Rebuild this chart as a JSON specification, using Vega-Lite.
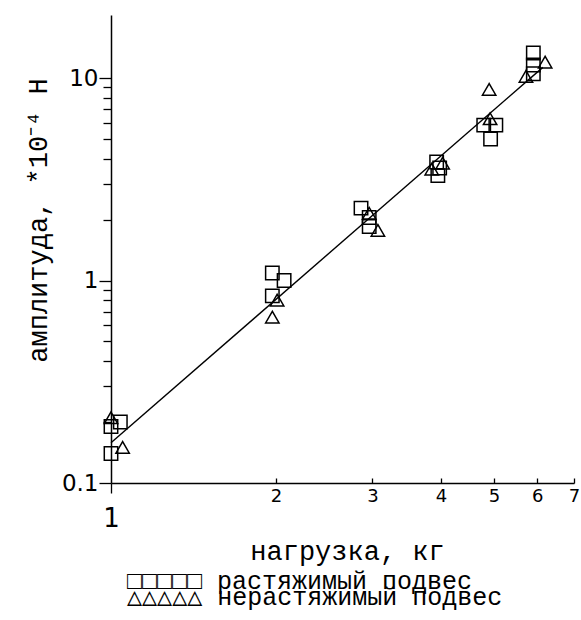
{
  "$schema": "https://vega.github.io/schema/vega-lite/v6.json",
  "width": 463,
  "height": 468,
  "autosize": "none",
  "padding": {"left": 111, "top": 15, "right": 7, "bottom": 137},
  "background": "white",
  "config": {
    "view": {"stroke": null},
    "axis": {"grid": false, "domainColor": "black", "tickColor": "black", "labelColor": "black", "titleColor": "black", "domainWidth": 1.5, "tickWidth": 1.3}
  },
  "datasets": {
    "pts": [
      {"x": 1.0, "y": 0.19, "s": "растяжимый подвес"},
      {"x": 1.04, "y": 0.2, "s": "растяжимый подвес"},
      {"x": 1.0, "y": 0.14, "s": "растяжимый подвес"},
      {"x": 1.97, "y": 1.09, "s": "растяжимый подвес"},
      {"x": 2.07, "y": 1.0, "s": "растяжимый подвес"},
      {"x": 1.97, "y": 0.84, "s": "растяжимый подвес"},
      {"x": 2.86, "y": 2.28, "s": "растяжимый подвес"},
      {"x": 2.96, "y": 2.05, "s": "растяжимый подвес"},
      {"x": 2.96, "y": 1.85, "s": "растяжимый подвес"},
      {"x": 3.93, "y": 3.85, "s": "растяжимый подвес"},
      {"x": 3.98, "y": 3.6, "s": "растяжимый подвес"},
      {"x": 3.95, "y": 3.3, "s": "растяжимый подвес"},
      {"x": 4.79, "y": 5.86, "s": "растяжимый подвес"},
      {"x": 5.04, "y": 5.86, "s": "растяжимый подвес"},
      {"x": 4.93, "y": 5.0, "s": "растяжимый подвес"},
      {"x": 5.9, "y": 13.3, "s": "растяжимый подвес"},
      {"x": 5.9, "y": 11.6, "s": "растяжимый подвес"},
      {"x": 5.9, "y": 10.5, "s": "растяжимый подвес"},
      {"x": 1.0, "y": 0.21, "s": "нерастяжимый подвес"},
      {"x": 1.05, "y": 0.15, "s": "нерастяжимый подвес"},
      {"x": 2.01, "y": 0.8, "s": "нерастяжимый подвес"},
      {"x": 1.97, "y": 0.66, "s": "нерастяжимый подвес"},
      {"x": 2.96, "y": 2.15, "s": "нерастяжимый подвес"},
      {"x": 3.07, "y": 1.77, "s": "нерастяжимый подвес"},
      {"x": 3.85, "y": 3.55, "s": "нерастяжимый подвес"},
      {"x": 4.03, "y": 3.8, "s": "нерастяжимый подвес"},
      {"x": 4.9, "y": 8.8, "s": "нерастяжимый подвес"},
      {"x": 4.92, "y": 6.3, "s": "нерастяжимый подвес"},
      {"x": 6.2, "y": 12.0, "s": "нерастяжимый подвес"},
      {"x": 5.72, "y": 10.2, "s": "нерастяжимый подвес"}
    ],
    "fit": [
      {"x": 1.0, "y": 0.158},
      {"x": 6.14, "y": 11.3}
    ]
  },
  "encoding": {
    "x": {
      "field": "x", "type": "quantitative",
      "scale": {"type": "log", "domain": [1, 7]},
      "axis": {
        "values": [1, 2, 3, 4, 5, 6, 7],
        "labelFont": "DejaVu Sans",
        "labelFontSize": {"condition": {"test": "datum.value == 1", "value": 26}, "value": 18},
        "labelPadding": {"condition": {"test": "datum.value == 1", "value": 12}, "value": 9},
        "labelBaseline": "top",
        "labelFlush": false,
        "labelOverlap": false,
        "tickSize": {"condition": {"test": "datum.value == 1", "value": 10}, "value": -5},
        "title": "нагрузка, кг",
        "titleFont": "Liberation Mono",
        "titleFontSize": 27,
        "titleFontWeight": "normal",
        "titleX": 236,
        "titleY": 68,
        "titleBaseline": "middle",
        "titleAlign": "center"
      }
    },
    "y": {
      "field": "y", "type": "quantitative",
      "scale": {"type": "log", "domain": [0.1, 20.5]},
      "axis": {
        "values": [0.1, 0.2, 0.3, 0.4, 0.5, 0.6, 0.7, 0.8, 0.9, 1, 2, 3, 4, 5, 6, 7, 8, 9, 10],
        "labelExpr": "datum.value == 0.1 ? '0.1' : datum.value == 1 ? '1' : datum.value == 10 ? '10' : ''",
        "labelFont": "DejaVu Sans",
        "labelFontSize": 23,
        "labelPadding": 1,
        "labelOverlap": false,
        "labelFlush": false,
        "tickSize": {"condition": {"test": "datum.value == 0.1 || datum.value == 1 || datum.value == 10", "value": 12}, "value": 8},
        "title": "амплитуда, *10⁻⁴ Н",
        "titleFont": "Liberation Mono",
        "titleFontSize": 27,
        "titleFontWeight": "normal",
        "titleAngle": -90,
        "titleX": -73,
        "titleY": 205,
        "titleAlign": "center",
        "titleBaseline": "middle"
      }
    }
  },
  "layer": [
    {
      "data": {"name": "fit"},
      "mark": {"type": "line", "color": "black", "strokeWidth": 1.4}
    },
    {
      "data": {"name": "pts"},
      "transform": [{"filter": "datum.s == 'растяжимый подвес'"}],
      "mark": {"type": "point", "filled": false, "size": 180, "strokeWidth": 1.5, "color": "black", "opacity": 1},
      "encoding": {
        "shape": {
          "field": "s", "type": "nominal",
          "scale": {"domain": ["растяжимый подвес"], "range": ["square"]},
          "legend": {
            "title": null,
            "orient": "none",
            "legendX": -9,
            "legendY": 553,
            "padding": 0,
            "symbolSize": 0,
            "symbolOpacity": 0,
            "symbolStrokeWidth": 0,
            "labelOffset": 0,
            "labelExpr": "'□□□□□ ' + datum.label",
            "labelFont": "Liberation Mono, DejaVu Sans Mono",
            "labelFontSize": 25,
            "labelColor": "black",
            "labelLimit": 0
          }
        }
      }
    },
    {
      "data": {"name": "pts"},
      "transform": [{"filter": "datum.s == 'нерастяжимый подвес'"}],
      "mark": {"type": "point", "filled": false, "size": 180, "strokeWidth": 1.5, "color": "black", "opacity": 1},
      "encoding": {
        "shape": {
          "field": "s", "type": "nominal",
          "scale": {"domain": ["нерастяжимый подвес"], "range": ["triangle-up"]},
          "legend": {
            "title": null,
            "orient": "none",
            "legendX": -9,
            "legendY": 569,
            "padding": 0,
            "symbolSize": 0,
            "symbolOpacity": 0,
            "symbolStrokeWidth": 0,
            "labelOffset": 0,
            "labelExpr": "'△△△△△ ' + datum.label",
            "labelFont": "Liberation Mono, DejaVu Sans Mono",
            "labelFontSize": 25,
            "labelColor": "black",
            "labelLimit": 0
          }
        }
      }
    }
  ],
  "resolve": {
    "scale": {"shape": "independent"},
    "legend": {"shape": "independent"}
  }
}
